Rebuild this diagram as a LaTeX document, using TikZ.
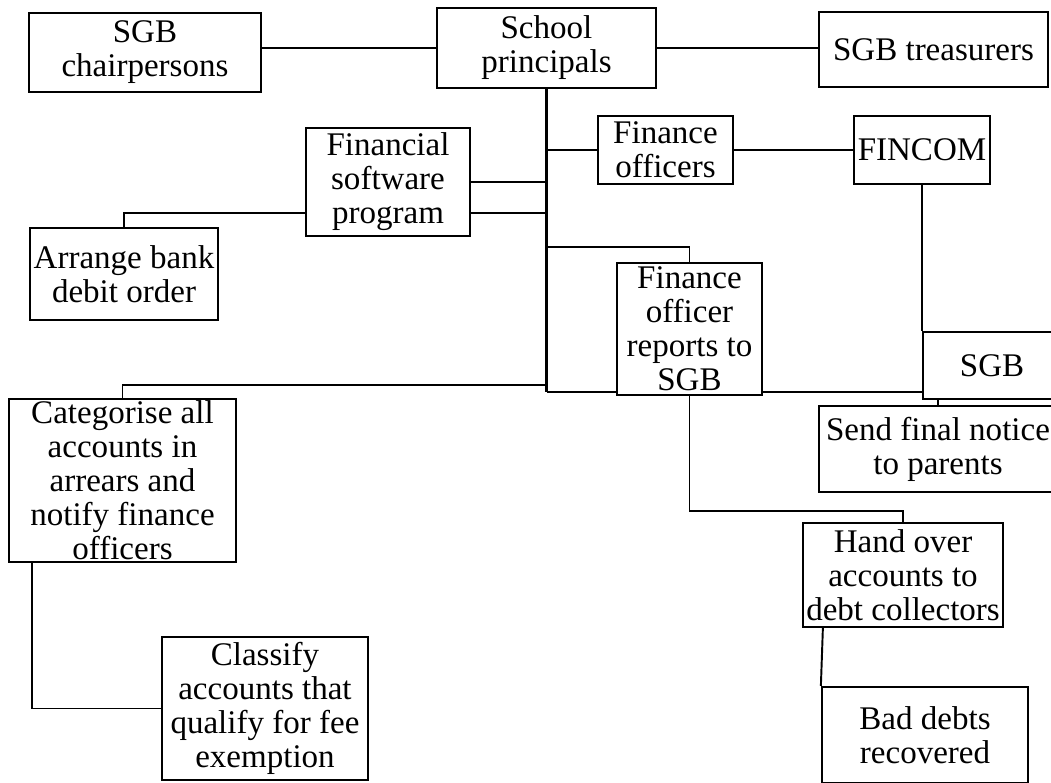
\documentclass[tikz,border=0pt]{standalone}
\usepackage{fontspec}
\setmainfont{Liberation Serif}
\usepackage{tikz}
\usetikzlibrary{positioning}

\begin{document}
\begin{tikzpicture}[x=0.02cm, y=-0.02cm,
		stage/.style={draw, rectangle, line width=1.3pt, inner sep=0pt, align=center,
			font=\fontsize{18.8}{19.3}\selectfont},
		link/.style={draw, line width=1.1pt}]
				\clip (0,0) rectangle (1051,782);
				\node[stage, minimum width=4.64cm, minimum height=1.58cm] (chair) at (145.0, 52.5) {SGB\\chairpersons};
				\node[stage, minimum width=4.38cm, minimum height=1.60cm] (princ) at (546.5, 48.0) {School\\principals};
				\node[stage, minimum width=4.58cm, minimum height=1.50cm] (treas) at (933.5, 49.5) {SGB treasurers};
				\node[stage, minimum width=2.70cm, minimum height=1.36cm] (finoff) at (665.5, 150.0) {Finance\\officers};
				\node[stage, minimum width=2.72cm, minimum height=1.36cm] (fincom) at (922.0, 150.0) {FINCOM};
				\node[stage, minimum width=3.28cm, minimum height=2.16cm] (soft) at (388.0, 182.0) {Financial\\software\\program};
				\node[stage, minimum width=3.76cm, minimum height=1.84cm] (arrange) at (124.0, 274.0) {Arrange bank\\debit order};
				\node[stage, minimum width=2.90cm, minimum height=2.64cm] (report) at (689.5, 329.0) {Finance\\officer\\reports to\\SGB};
				\node[stage, minimum width=2.76cm, minimum height=1.34cm] (sgb) at (992.0, 365.5) {SGB};
				\node[stage, minimum width=4.76cm, minimum height=1.72cm] (send) at (938.0, 449.0) {Send final notice\\to parents};
				\node[stage, minimum width=4.54cm, minimum height=3.26cm] (categ) at (122.5, 480.5) {Categorise all\\accounts in\\arrears and\\notify finance\\officers};
				\node[stage, minimum width=4.12cm, minimum height=2.86cm] (classify) at (265.0, 708.5) {Classify\\accounts that\\qualify for fee\\exemption};
				\node[stage, minimum width=4.00cm, minimum height=2.08cm] (hand) at (903.0, 575.0) {Hand over\\accounts to\\debt collectors};
				\node[stage, minimum width=4.12cm, minimum height=1.92cm] (bad) at (925.0, 735.0) {Bad debts\\recovered};
				\coordinate (tb) at (546.5, 392.0);
				\coordinate (rj) at (546.5, 247.0);
				\coordinate (cj) at (546.5, 385.0);
				\coordinate (hj) at (689.5, 511.0);
				\draw[link] (princ.west) -- (princ.west -| chair.east);
				\draw[link] (princ.east) -- (princ.east -| treas.west);
				\draw[link, line width=1.7pt] (princ.south) -- (tb);
				\draw[link] (finoff.west) -- (finoff.west -| tb);
				\draw[link] (finoff.east) -- (fincom.west);
				\draw[link] (soft.east) -- (soft.east -| tb);
				\draw[link] ([yshift=-0.62cm]soft.east) coordinate (s2) -- (s2 -| tb);
				\draw[link] ([yshift=-0.62cm]soft.west) -| (arrange.north);
				\draw[link] (rj) -| (report.north);
				\draw[link] (cj) -| (categ.north);
				\draw[link] (tb) -- (report.west |- tb);
				\draw[link] (report.east |- tb) -- (sgb.west |- tb);
				\draw[link] (fincom.south) -- (fincom.south |- sgb.north);
				\draw[link] (send.north) -- (send.north |- sgb.south);
				\draw[link] (report.south) |- (hj) -| (hand.north);
				\draw[link] ([xshift=0.42cm]hand.south west) -- (bad.north west);
				\draw[link] ([xshift=0.48cm]categ.south west) |- (classify.west);
			\end{tikzpicture}
\end{document}
